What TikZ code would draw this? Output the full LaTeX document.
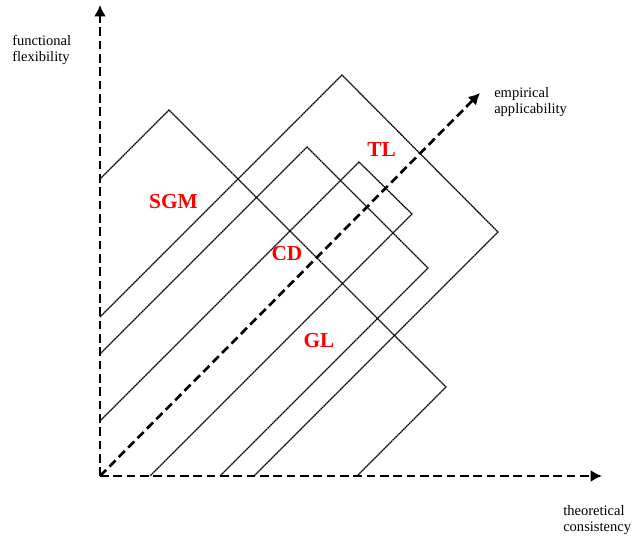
\documentclass[tikz,border=0pt]{standalone}
\usepackage{fontspec}
\setmainfont{Liberation Serif}
\usetikzlibrary{arrows.meta}
\tikzset{
  axis/.style={line width=2pt,dash pattern=on 6.5pt off 3.5pt,-{Latex[length=8.5pt,width=9pt]}},
  square/.style={line width=0.95pt,dash pattern=on 1.2pt off 0.4pt},
  modellabel/.style={text=red,inner sep=0pt,font=\fontsize{16}{18}\selectfont\bfseries},
  axislabel/.style={align=left,inner sep=0pt,anchor=north west,font=\fontsize{10.9}{12}\selectfont}
}
\begin{document}
\begin{tikzpicture}[x=0.75pt,y=-0.75pt]
\useasboundingbox (0,0) rectangle (633,537);

% axes
\coordinate (O) at (100,476);
\coordinate (ytip) at (100,5);
\coordinate (xtip) at (602,476);
\coordinate (dtip) at (480,93);
\draw[axis] (O) -- (ytip);
\draw[axis] (O) -- (xtip);
\draw[axis] (O) -- (dtip);

\node[axislabel] (flex) at (12,35) {functional\\flexibility};
\node[axislabel] (emp) at (494,87) {empirical\\applicability};
\node[axislabel] (theo) at (563,505) {theoretical\\consistency};

% squares, cut off by the axes
\draw[square] (100,179) -- (169,110) -- (446,387) -- (357,476);
\draw[square] (100,317) -- (342,75) -- (498,232) -- (254,476);
\draw[square] (100,354) -- (307,147) -- (428,268) -- (220,476);
\draw[square] (100,421) -- (359,162) -- (412,214) -- (150,476);

\node[modellabel] (sgm) at (173.5,202) {SGM};
\node[modellabel] (tl) at (381.5,149.5) {TL};
\node[modellabel] (cd) at (287,253.5) {CD};
\node[modellabel] (gl) at (319,341) {GL};

\end{tikzpicture}
\end{document}
